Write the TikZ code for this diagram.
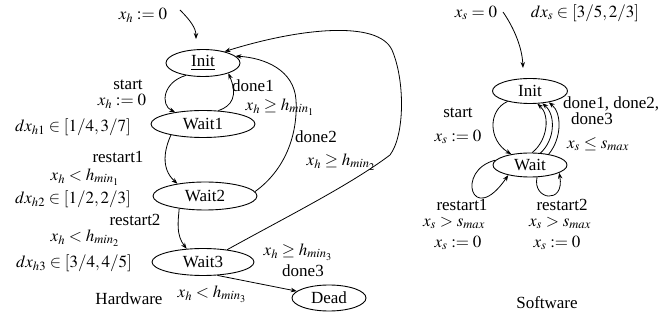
\documentclass[tikz,border=0pt]{standalone}
\usepackage{mathptmx}
\usepackage{fontspec}
\setmainfont{Liberation Serif}
\usetikzlibrary{shapes.geometric,arrows.meta}
\begin{document}
\begin{tikzpicture}[x=1pt,y=-1pt,
  font=\fontsize{17}{20}\selectfont,
  state/.style={draw, ellipse, inner sep=0pt, line width=0.9pt},
  arr/.style={-{Stealth[length=6pt,width=4.5pt]}, line width=0.8pt},
  lab/.style={inner sep=0pt}]
\useasboundingbox (0,0) rectangle (667,320);
% ---------- hardware states
\node[state, minimum width=74pt, minimum height=27pt] (HInit) at (203,63) {\underline{Init}};
\node[state, minimum width=104pt, minimum height=27pt] (HW1) at (203,124) {Wait1};
\node[state, minimum width=104pt, minimum height=28pt] (HW2) at (205,196) {Wait2};
\node[state, minimum width=102pt, minimum height=27pt] (HW3) at (203,262) {Wait3};
\node[state, minimum width=74pt, minimum height=26pt] (HDead) at (329,298) {Dead};
% ---------- software states
\node[state, minimum width=75pt, minimum height=25pt] (SInit) at (530,91) {Init};
\node[state, minimum width=74pt, minimum height=24pt] (SWait) at (530,165) {Wait};
% ---------- hardware labels
\node[lab] (lh0) at (143,15) {$x_h := 0$};
\node[lab] (lhs1) at (128,85) {start};
\node[lab] (lhs2) at (122,101) {$x_h := 0$};
\node[lab] (lhd1a) at (253,86) {done1};
\node[lab] (lhd1b) at (280,107) {$x_h \geq h_{min_1}$};
\node[lab] (ldx1) at (73,127) {$dx_{h1} \in [1/4,3/7]$};
\node[lab] (lhr1a) at (118,157) {restart1};
\node[lab] (lhr1b) at (85,177) {$x_h < h_{min_1}$};
\node[lab] (ldx2) at (73,199) {$dx_{h2} \in [1/2,2/3]$};
\node[lab] (lhr2a) at (135,220) {restart2};
\node[lab] (lhr2b) at (85,238) {$x_h < h_{min_2}$};
\node[lab] (ldx3) at (74,263) {$dx_{h3} \in [3/4,4/5]$};
\node[lab] (lhd3a) at (298,252) {$x_h \geq h_{min_3}$};
\node[lab] (lhd3b) at (303,271) {done3};
\node[lab] (lhdead) at (212,294) {$x_h < h_{min_3}$};
\node[lab] (lhw) at (129,299) {Hardware};
\node[lab] (lhd2a) at (316,137) {done2};
\node[lab] (lhd2b) at (341,162) {$x_h \geq h_{min_2}$};
% ---------- software labels
\node[lab] (ls0) at (476,13) {$x_s = 0$};
\node[lab] (lsdx) at (585,13) {$dx_s \in [3/5,2/3]$};
\node[lab] (lss1) at (458,113) {start};
\node[lab] (lss2) at (458,137) {$x_s := 0$};
\node[lab, anchor=west] (lsd1) at (563,104) {done1, done2,};
\node[lab, anchor=west] (lsd2) at (571,119) {done3};
\node[lab] (lsd3) at (598,144) {$x_s \leq s_{max}$};
\node[lab] (lsr1a) at (462,205) {restart1};
\node[lab] (lsr1b) at (454,223) {$x_s > s_{max}$};
\node[lab] (lsr1c) at (458,243) {$x_s := 0$};
\node[lab] (lsr2a) at (562,205) {restart2};
\node[lab] (lsr2b) at (560,223) {$x_s > s_{max}$};
\node[lab] (lsr2c) at (557,243) {$x_s := 0$};
\node[lab] (lsw) at (547,303) {Software};
% ---------- hardware transitions
\coordinate (h0) at (180,10);
\coordinate (hin) at (196,39);
\draw[arr] (h0) .. controls (190,20) and (196,28) .. (hin);
\draw[arr] (HInit.216) .. controls (163,82) and (160,105) .. (HW1.157);
\draw[arr] (HW1.41) .. controls (232,106) and (238,96) .. (HInit.338);
\draw[arr] (HW1.199) .. controls (165,148) and (160,168) .. (HW2.156);
\draw[arr] (HW2.206) .. controls (178,222) and (176,235) .. (HW3.141);
\draw[arr] (HW3.317) -- (HDead.168);
\draw[arr] (HW2.5) .. controls (285,170) and (298,135) .. (296,100)
  .. controls (294,70) and (265,58) .. (HInit.12);
\draw[arr] (HW3.27) .. controls (290,215) and (350,185) .. (390,155)
  .. controls (405,135) and (405,80) .. (392,50)
  .. controls (378,20) and (300,28) .. (HInit.28);
% ---------- software transitions
\coordinate (s0) at (503,12);
\coordinate (sin) at (523,68);
\draw[arr] (s0) .. controls (512,25) and (522,45) .. (sin);
\draw[arr] (SInit.205) .. controls (488,110) and (488,140) .. (SWait.150);
\draw[arr] (SWait.80) .. controls (548,140) and (550,115) .. (SInit.300);
\draw[arr] (SWait.49) .. controls (555,140) and (556,115) .. (SInit.315);
\draw[arr] (SWait.30) .. controls (562,138) and (562,113) .. (SInit.329);
\draw[arr] (SWait.172) .. controls (455,170) and (472,228) .. (SWait.205);
\draw[arr] (SWait.300) .. controls (532,200) and (565,205) .. (SWait.345);
\end{tikzpicture}
\end{document}
